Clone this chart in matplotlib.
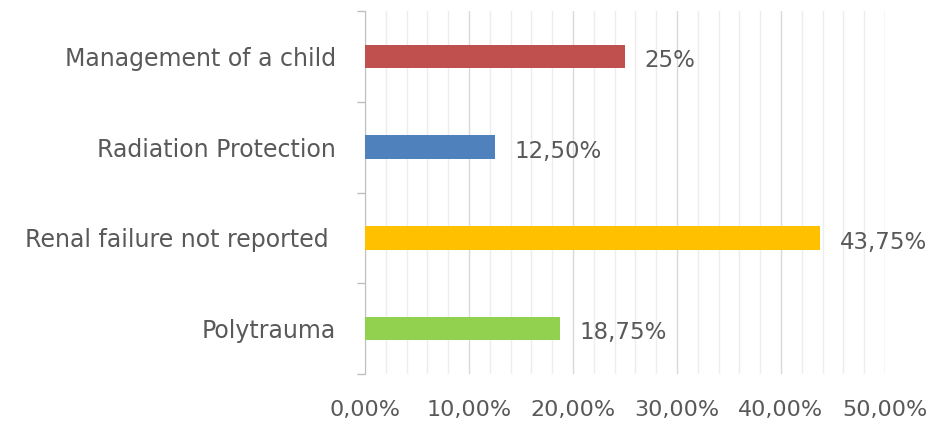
import matplotlib.pyplot as plt
from matplotlib.ticker import MultipleLocator, FuncFormatter

categories = ["Polytrauma", "Renal failure not reported ", "Radiation Protection", "Management of a child"]
values = [18.75, 43.75, 12.5, 25.0]
value_labels = ["18,75%", "43,75%", "12,50%", "25%"]
colors = ["#92D050", "#FFC000", "#4F81BD", "#C0504D"]

plt.rcParams['font.family'] = ['DejaVu Sans']
txt = "#595959"

fig = plt.figure(figsize=(9.3, 4.25), dpi=100)
ax = fig.add_axes([0.3925, 0.12, 0.5591, 0.854])

pos = list(range(len(categories)))
bars = ax.barh(pos, values, height=0.26, color=colors, zorder=3)

# value labels to the right of each bar
for b, lab in zip(bars, value_labels):
    ax.annotate(lab, (b.get_width(), b.get_y() + b.get_height() / 2),
                xytext=(14, -3), textcoords="offset points", va="center", ha="left",
                fontsize=16.5, color=txt)

ax.set_xlim(0, 50)
ax.set_ylim(-0.5, len(categories) - 0.5)
ax.xaxis.set_major_locator(MultipleLocator(10))
ax.xaxis.set_minor_locator(MultipleLocator(2))
ax.xaxis.set_major_formatter(FuncFormatter(lambda v, p: ("%.2f%%" % v).replace(".", ",")))
ax.grid(axis="x", which="major", color="#D9D9D9", lw=1, zorder=0)
ax.grid(axis="x", which="minor", color="#EDEDED", lw=1, zorder=0)
ax.tick_params(axis="x", which="both", length=0, pad=19, labelsize=16, labelcolor=txt)

ax.set_yticks(pos)
ax.set_yticklabels(categories)
ax.set_yticks([p - 0.5 for p in pos] + [len(pos) - 0.5], minor=True)
ax.tick_params(axis="y", which="major", length=0, pad=21, labelsize=17, labelcolor=txt)
ax.tick_params(axis="y", which="minor", length=6, color="#BFBFBF", width=1)

for s in ["top", "right", "bottom"]:
    ax.spines[s].set_visible(False)
ax.spines["left"].set_color("#BFBFBF")

fig.savefig("out.png", dpi=100)
